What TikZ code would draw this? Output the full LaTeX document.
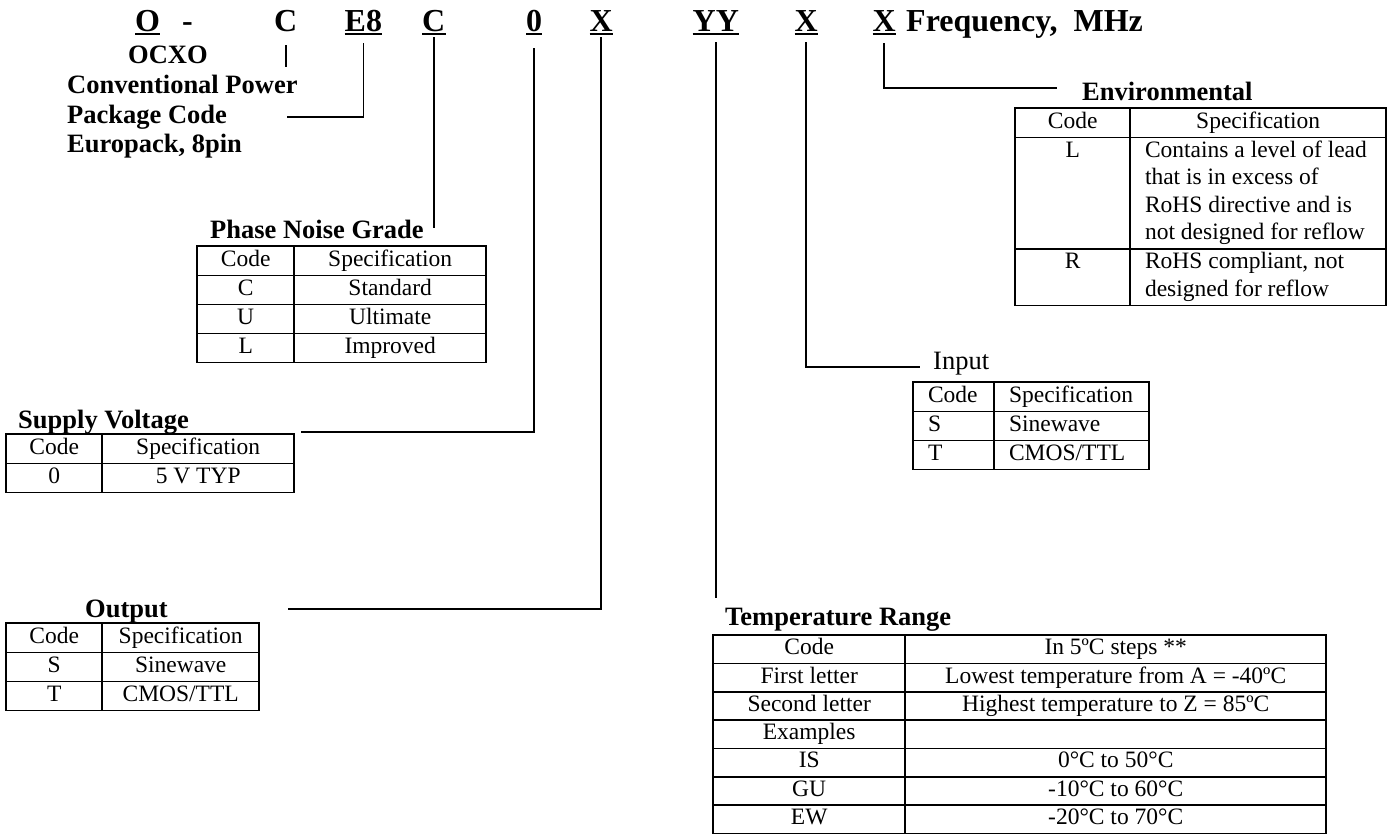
\documentclass[tikz,border=0pt]{standalone}
\usepackage{fontspec}
\setmainfont{Liberation Serif}
\usepackage{array}
\usetikzlibrary{positioning}
\newlength{\mypad}
\setlength{\mypad}{14pt}
\setlength{\tabcolsep}{0pt}
\setlength{\arrayrulewidth}{1.6pt}
\newcolumntype{C}[1]{>{\centering\arraybackslash}p{#1}}
\newcolumntype{L}[1]{>{\raggedright\arraybackslash\leftskip=\mypad}p{#1}}
\newcommand{\mycode}{\fontsize{32}{38}\selectfont\bfseries}
\newcommand{\myttl}{\fontsize{26.5}{30}\selectfont\bfseries}
\newcommand{\myin}{\fontsize{26.5}{30}\selectfont}
\newcommand{\mycell}{\fontsize{23.5}{27.5}\selectfont}
\newcommand{\mytcell}{\fontsize{23.5}{26.7}\selectfont}
\tikzset{
  codech/.style={font=\mycode, inner sep=0pt, anchor=base west},
  lbl/.style={font=\myttl, inner sep=0pt, anchor=base west},
  tbl/.style={font=\mycell, inner sep=0pt, anchor=north west},
  lead/.style={line width=1.7pt},
  uline/.style={line width=2.6pt}
}

\begin{document}
\begin{tikzpicture}[x=1pt, y=-1pt]
\fill[white] (0,0) rectangle (1388,836);
\useasboundingbox (0,0) rectangle (1388,836);

\node[codech] (cO) at (135,31.5) {O};
\node[codech] (cDash) at (182,31.5) {-};
\node[codech] (cC) at (274,31.5) {C};
\node[codech] (cE8) at (344.5,31.5) {E8};
\node[codech] (cC2) at (422,31.5) {C};
\node[codech] (c0) at (526,31.5) {0};
\node[codech] (cX1) at (589.5,31.5) {X};
\node[codech] (cYY) at (692.5,31.5) {YY};
\node[codech] (cX2) at (794.5,31.5) {X};
\node[codech] (cX3) at (872.5,31.5) {X};
\node[codech] (freq) at (906,31.5) {Frequency,\ \ MHz};
\foreach \n in {cO,cE8,cC2,c0,cX1,cYY,cX2,cX3}
  \draw[uline] ([yshift=-2.5pt]\n.base west) -- ([yshift=-2.5pt]\n.base east);

\node[lbl] (ocxo) at (128,63) {OCXO};
\node[lbl] (conv) at (67,93) {Conventional Power};
\node[lbl] (pkg) at (67,123) {Package Code};
\node[lbl] (euro) at (67,152) {Europack, 8pin};

\node[lbl] (phTtl) at (210,238) {Phase Noise Grade};
\node[tbl] (phTab) at (196.2,245.2) {
    \begin{tabular}{|C{95.4pt}|C{190.4pt}|}
        \hline
        Code & Specification \\ \hline
        C & Standard \\ \hline
        U & Ultimate \\ \hline
        L & Improved \\ \hline
    \end{tabular}};

\node[lbl] (supTtl) at (18,428) {Supply Voltage};
\node[tbl] (supTab) at (5.2,433.2) {
    \begin{tabular}{|C{94.4pt}|C{190.4pt}|}
        \hline
        Code & Specification \\ \hline
        0 & 5 V TYP \\ \hline
    \end{tabular}};

\node[lbl] (outTtl) at (85,617) {Output};
\node[tbl] (outTab) at (5.2,622.2) {
    \begin{tabular}{|C{94.4pt}|C{155.4pt}|}
        \hline
        Code & Specification \\ \hline
        S & Sinewave \\ \hline
        T & CMOS/TTL \\ \hline
    \end{tabular}};

\node[lbl, font=\myin] (inTtl) at (933,369) {Input};
\node[tbl] (inTab) at (912.2,381.2) {
    \begin{tabular}{|L{79.4pt}|L{153.4pt}|}
        \hline
        Code & Specification \\ \hline
        S & Sinewave \\ \hline
        T & CMOS/TTL \\ \hline
    \end{tabular}};

\node[lbl] (envTtl) at (1082,100) {Environmental};
\node[tbl] (envTab) at (1014.2,107.2) {
    \begin{tabular}{|C{113.4pt}|L{254.4pt}|}
        \hline
        Code & \multicolumn{1}{C{254.4pt}|}{Specification} \\ \hline
        L & Contains a level of lead\newline that is in excess of\newline RoHS directive and is\newline not designed for reflow \\ \hline
        R & RoHS compliant, not\newline designed for reflow \\[6pt] \hline
    \end{tabular}};

\node[lbl] (tmpTtl) at (725,625) {Temperature Range};
\node[tbl, font=\mytcell] (tmpTab) at (712.2,634.2) {
    \begin{tabular}{|C{190.4pt}|C{419.4pt}|}
        \hline
        Code & In 5ºC steps ** \\ \hline
        First letter & Lowest temperature from A = -40ºC \\ \hline
        Second letter & Highest temperature to Z = 85ºC \\ \hline
        Examples & \\ \hline
        IS & 0°C to 50°C \\ \hline
        GU & -10°C to 60°C \\ \hline
        EW & -20°C to 70°C \\ \hline
    \end{tabular}};

\draw[lead] ([yshift=-13.5pt]cC.base) -- ++(0,22);
\draw[lead] ([yshift=-11.5pt]cE8.base) |- ([xshift=60pt]pkg.east);
\draw[lead] ([yshift=-5.5pt]cC2.base) -- ++(0,191);
\draw[lead] ([yshift=-16.5pt]c0.base) |- ([xshift=6pt,yshift=1pt]supTab.north east);
\draw[lead] ([yshift=-5.5pt]cX1.base) |- ([xshift=28pt,yshift=13pt]outTab.north east);
\draw[lead] ([yshift=-10.5pt]cYY.base) -- ++(0,556);
\draw[lead] ([yshift=-10.5pt]cX2.base) |- ([xshift=-13pt,yshift=2pt]inTtl.base west);
\draw[lead] ([yshift=-11.5pt]cX3.base) |- ([xshift=-25pt,yshift=12pt]envTtl.base west);
\end{tikzpicture}
\end{document}
